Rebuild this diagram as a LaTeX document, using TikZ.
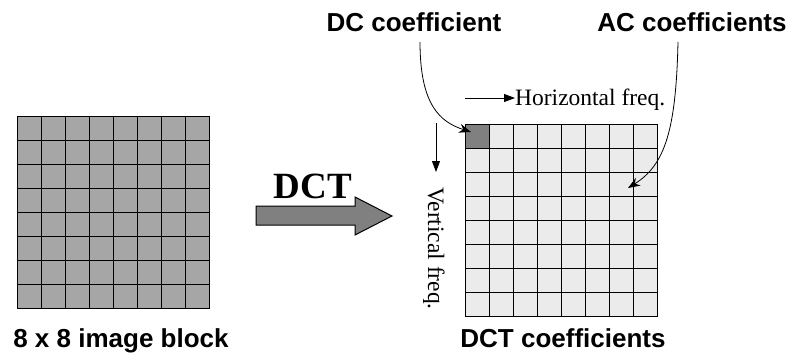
\documentclass[tikz,border=0pt]{standalone}
\usepackage{fontspec}
\setmainfont{Liberation Serif}
\setsansfont{Liberation Sans}
\usetikzlibrary{
	arrows.meta,
	positioning,
}
\definecolor{pixgray}{RGB}{166,166,166}
\definecolor{coefgray}{RGB}{235,235,235}
\definecolor{dcgray}{RGB}{128,128,128}
\tikzset{cap label/.style={
	inner sep=0pt,
	font=\sffamily\bfseries\fontsize{26}{28}\selectfont,
}}
\tikzset{freq label/.style={
	inner sep=0pt,
	font=\fontsize{23.5}{26}\selectfont,
}}
\tikzset{cell/.style={
	draw,
	line width=1pt,
}}
\tikzset{freq arrow/.style={
	-{Triangle[length=11pt,width=8pt]},
	line width=0.8pt,
}}
\tikzset{point arrow/.style={
	-{Stealth[length=12pt,width=9pt]},
	line width=0.8pt,
}}

\begin{document}
\begin{tikzpicture}[x=1pt,y=-1pt]
\useasboundingbox (0,0) rectangle (795,356);

% 8x8 image block
\foreach \i in {0,...,7}
\foreach \j in {0,...,7}
\draw[cell, fill=pixgray] (17+24*\i,116+24*\j) rectangle ++(24,24);
\node[cap label, anchor=base](blklabel) at (121,347) {8 x 8 image block};

% DCT arrow
\draw[line width=1pt, fill=dcgray] (256,206) -- (355,206) -- (355,197) -- (392,216)
-- (355,235) -- (355,225) -- (256,225) -- cycle;
\node[inner sep=0pt, font=\bfseries\fontsize{37}{40}\selectfont, anchor=base](dct) at (313,198) {DCT};

% coefficient block
\foreach \i in {0,...,7}
\foreach \j in {0,...,7}
\draw[cell, fill=coefgray] (465+24*\i,124+24*\j) rectangle ++(24,24);
\node[cell, fill=dcgray, inner sep=0pt, minimum size=24pt, anchor=north west](dccell) at (465,124) {};
\node[cap label, anchor=base](coeflabel) at (563,347) {DCT coefficients};

% frequency directions
\coordinate(hstart) at (465,98);
\node[freq label, anchor=base west](hlabel) at (515,105) {Horizontal freq.};
\draw[freq arrow] (hstart) -- (hstart -| hlabel.west);

\coordinate(vstart) at (436,123);
\coordinate(vend) at (436,172);
\draw[freq arrow] (vstart) -- (vend);
\node[freq label, rotate=-90, anchor=base west](vlabel) at (428,187) {Vertical freq.};

% DC / AC labels
\node[cap label, anchor=base](dclabel) at (414,31) {DC coefficient};
\node[cap label, anchor=base](aclabel) at (692,31) {AC coefficients};

\coordinate(dcstart) at (420,42);
\coordinate(dctip) at (471,132);
\draw[point arrow] (dcstart) .. controls (420,105) and (440,122) .. (dctip);

\coordinate(acstart) at (678,42);
\coordinate(actip) at (628,188);
\draw[point arrow] (acstart) .. controls (676,130) and (665,165) .. (actip);

\end{tikzpicture}
\end{document}
